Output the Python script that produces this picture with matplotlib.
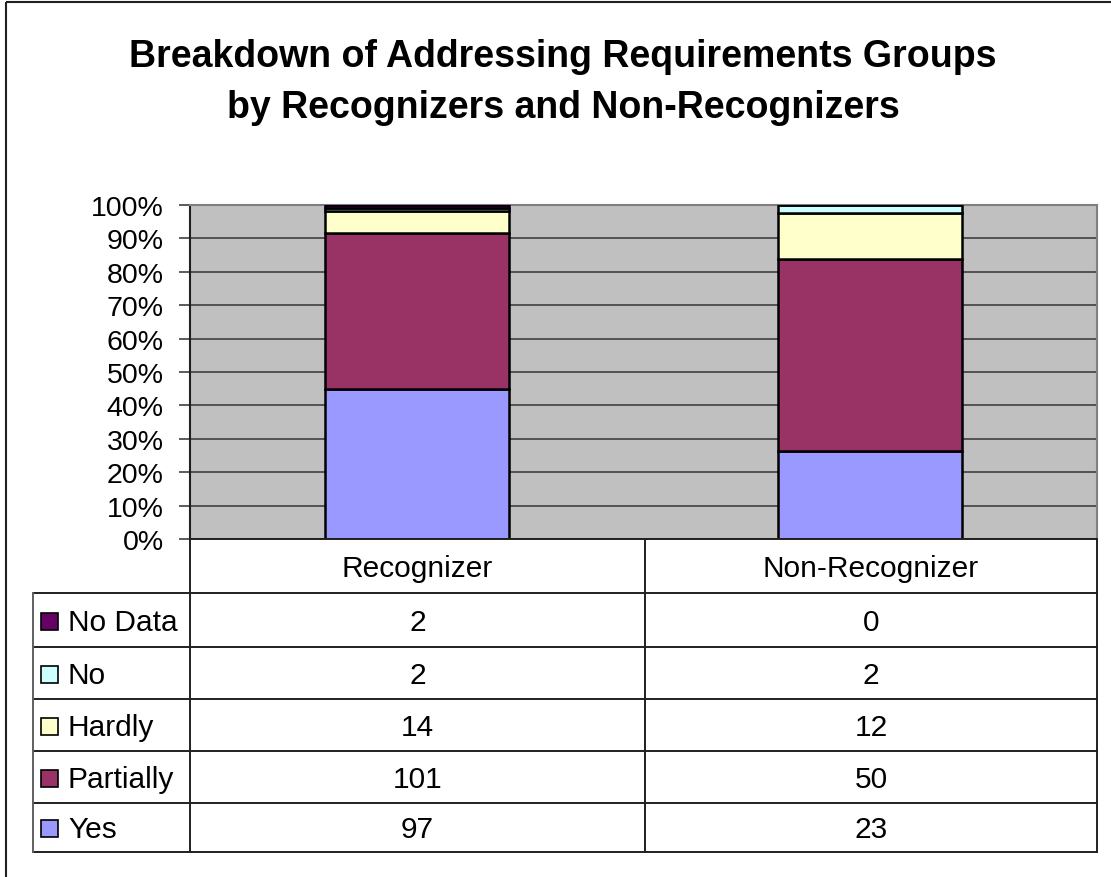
import numpy as np
import matplotlib
matplotlib.use('Agg')
import matplotlib.pyplot as plt
from matplotlib.patches import Rectangle

plt.rcParams['font.family'] = ['Liberation Sans', 'DejaVu Sans']

title_lines = ['Breakdown of Addressing Requirements Groups',
               'by Recognizers and Non-Recognizers']
groups = ['Recognizer', 'Non-Recognizer']
# stacked from the bottom up
series = ['Yes', 'Partially', 'Hardly', 'No', 'No Data']
yes = [97, 23]
partially = [101, 50]
hardly = [14, 12]
no = [2, 2]
no_data = [2, 0]
colors = ['#9999FF', '#993366', '#FFFFCC', '#CCFFFF', '#660066']

counts = np.array([yes, partially, hardly, no, no_data], dtype=float)
shares = counts / counts.sum(axis=0)

W, H = 1111, 878
fig = plt.figure(figsize=(W / 100, H / 100), dpi=100)

# plot area in pixel box
px_l, px_r, px_t, px_b = 190, 1097, 206, 540
ax = fig.add_axes([px_l / W, 1 - px_b / H, (px_r - px_l) / W, (px_b - px_t) / H])
ax.set_facecolor('#C0C0C0')
x = np.arange(len(groups))
bottom = np.zeros(len(groups))
for i, name in enumerate(series):
    ax.bar(x, shares[i], 0.405, bottom=bottom, color=colors[i],
           edgecolor='black', linewidth=1.8, zorder=3)
    bottom += shares[i]
ax.set_xlim(-0.5, len(groups) - 0.5)
ax.set_ylim(0, 1)
ticks = np.linspace(0, 1, 11)
ax.set_yticks(ticks)
ax.set_yticklabels(['{:d}%'.format(int(round(t * 100))) for t in ticks])
ax.yaxis.grid(True, color='#404040', linewidth=1.2, zorder=1)
ax.set_axisbelow(True)
ax.set_xticks([])
ax.tick_params(axis='y', direction='out', length=8, width=1.2, color='#404040',
               pad=11, labelsize=20.5)
for s in ['top', 'right']:
    ax.spines[s].set_color('#808080')
    ax.spines[s].set_linewidth(1.5)
ax.spines['left'].set_color('#202020')
ax.spines['left'].set_linewidth(1.5)
ax.spines['bottom'].set_visible(False)

# overlay in pixel coords for title, table and frame
ov = fig.add_axes([0, 0, 1, 1])
ov.set_xlim(0, W)
ov.set_ylim(H, 0)
ov.axis('off')
ov.patch.set_visible(False)

for k, line in enumerate(title_lines):
    ov.text(563, 67 + 51 * k, line, ha='center', va='baseline', fontsize=27,
            fontweight='bold')

ov.add_patch(Rectangle((6, 3), W + 20, H + 20, fill=False, edgecolor='#202020', linewidth=1.5))

tab_l, lab_r, mid, tab_r = 33, 190, 645, 1097
head_t, head_b = 540, 594
row_edges = [594, 648, 700, 752, 804, 853]
lc = '#202020'
lw = 1.4
ov.plot([lab_r, tab_r], [head_t, head_t], color=lc, lw=lw)
for y in row_edges:
    ov.plot([tab_l, tab_r], [y, y], color=lc, lw=lw)
ov.plot([lab_r, lab_r], [head_t, row_edges[-1]], color=lc, lw=lw)
ov.plot([mid, mid], [head_t, row_edges[-1]], color=lc, lw=lw)
ov.plot([tab_r, tab_r], [head_t, row_edges[-1]], color=lc, lw=lw)
ov.plot([tab_l, tab_l], [row_edges[0], row_edges[-1]], color='#606060', lw=lw)

col_c = [(lab_r + mid) / 2, (mid + tab_r) / 2]
for j, g in enumerate(groups):
    ov.text(col_c[j], (head_t + head_b) / 2 + 2, g, ha='center', va='center', fontsize=21.5)

# table rows listed top-down (reverse of stack)
for r, i in enumerate(range(len(series) - 1, -1, -1)):
    yc = (row_edges[r] + row_edges[r + 1]) / 2
    ov.add_patch(Rectangle((41, yc - 7), 17, 17, facecolor=colors[i],
                           edgecolor='black', linewidth=1.2))
    ov.text(68, yc + 2, series[i], ha='left', va='center', fontsize=21.5)
    for j in range(len(groups)):
        ov.text(col_c[j], yc + 2, '{:d}'.format(int(counts[i, j])),
                ha='center', va='center', fontsize=21.5)

fig.savefig('out.png', dpi=100)
